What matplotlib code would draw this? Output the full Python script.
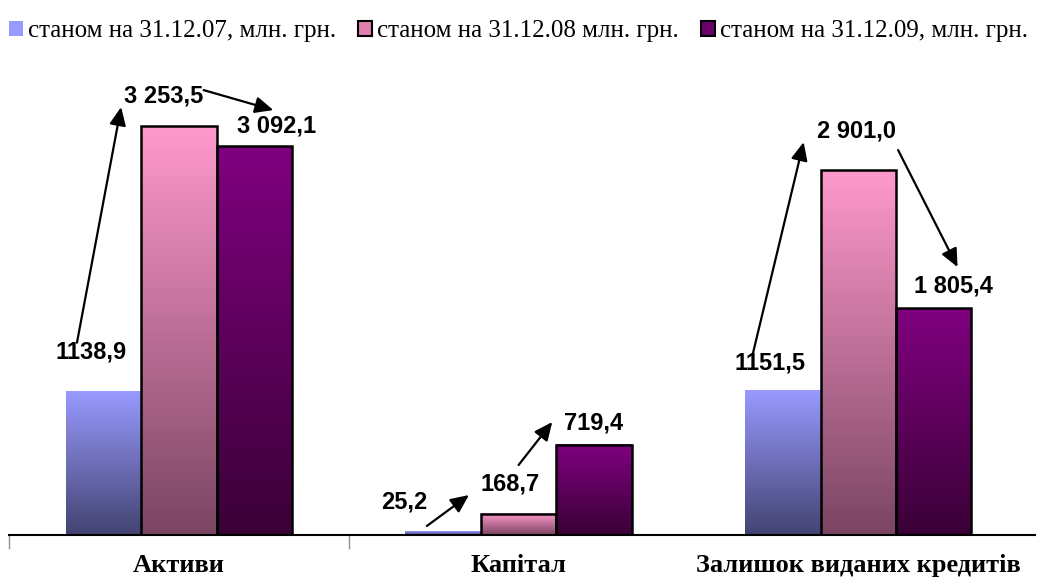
import numpy as np
import matplotlib
matplotlib.use("Agg")
import matplotlib.pyplot as plt
from matplotlib.patches import Patch
from matplotlib.colors import LinearSegmentedColormap

# ------------------------------
# Data
# ------------------------------
categories = ["Активи", "Капітал", "Залишок виданих кредитів"]
series_names = ["станом на 31.12.07, млн. грн.",
                "станом на 31.12.08 млн. грн.",
                "станом на 31.12.09, млн. грн."]
v2007 = [1138.9, 25.2, 1151.5]
v2008 = [3253.5, 168.7, 2901.0]
v2009 = [3092.1, 719.4, 1805.4]
labels2007 = ["1138,9", "25,2", "1151,5"]
labels2008 = ["3 253,5", "168,7", "2 901,0"]
labels2009 = ["3 092,1", "719,4", "1 805,4"]

# ------------------------------
# Style
# ------------------------------
BAR_W = 0.222
grads = [("#9999ff", "#434372"), ("#ff99cc", "#7a4562"), ("#800080", "#3a0036")]
edges = ["none", "black", "black"]

# value label offset from the top-centre of its bar: (dx categories, dy data units)
lab_off = [
    [(-0.035, 317), (-0.114, 238), (-0.038, 217)],   # 2007
    [(-0.044, 239), (-0.026, 237), (-0.006, 313)],   # 2008
    [(0.067, 162), (0.0, 172), (0.059, 176)],        # 2009
]
# trend arrows: (category, from (dx, y), to (dx, y)), dx from category centre
arrows = [
    (0, (-0.30, 1530), (-0.17, 3405)),
    (0, (0.073, 3540), (0.278, 3381)),
    (1, (-0.27, 72), (-0.146, 318)),
    (1, (0.0, 557), (0.099, 899)),
    (2, (-0.31, 1448), (-0.161, 3126)),
    (2, (0.117, 3063), (0.292, 2132)),
]


def gradient_bars(ax, x, vals, top, bottom, edge):
    bars = ax.bar(x, vals, width=BAR_W, facecolor="none", edgecolor=edge,
                  linewidth=1.8, zorder=3)
    cmap = LinearSegmentedColormap.from_list("g", [bottom, top])
    grad = np.linspace(0, 1, 256).reshape(-1, 1)
    for b in bars:
        x0, w, h = b.get_x(), b.get_width(), b.get_height()
        ax.imshow(grad, cmap=cmap, aspect="auto", origin="lower",
                  extent=(x0, x0 + w, 0, h), zorder=2)
    return bars


def main():
    fig = plt.figure(figsize=(10.37, 5.87), dpi=100)
    ax = fig.add_axes([9 / 1037, 52 / 587, 1026 / 1037, 465 / 587])

    x = np.arange(len(categories))
    data = [v2007, v2008, v2009]
    texts = [labels2007, labels2008, labels2009]
    for i, (vals, (top, bot), edge) in enumerate(zip(data, grads, edges)):
        xs = x + (i - 1) * BAR_W
        gradient_bars(ax, xs, vals, top, bot, edge)
        for j, lab in enumerate(texts[i]):
            dx, dy = lab_off[i][j]
            ax.text(xs[j] + dx, vals[j] + dy, lab,
                    ha="center", va="center", fontsize=17,
                    fontweight="bold", family="Liberation Sans", zorder=5)

    for cat, p0, p1 in arrows:
        ax.annotate("", xy=(x[cat] + p1[0], p1[1]), xytext=(x[cat] + p0[0], p0[1]),
                    arrowprops=dict(arrowstyle="-|>,head_length=1.1,head_width=0.5",
                                    color="black", lw=1.6, shrinkA=0, shrinkB=0),
                    zorder=6)

    ax.set_xlim(-0.5, 2.52)
    ax.set_ylim(0, 3700)
    ax.set_yticks([])
    for s in ["top", "right", "left"]:
        ax.spines[s].set_visible(False)
    ax.spines["bottom"].set_linewidth(1.5)
    ax.spines["bottom"].set_zorder(4)
    ax.set_xticks(x)
    ax.set_xticklabels(categories, family="Liberation Serif", fontweight="bold",
                       fontsize=19)
    ax.tick_params(axis="x", which="major", length=0, pad=14)
    ax.set_xticks([-0.5, 0.5], minor=True)
    ax.tick_params(axis="x", which="minor", length=10, width=1, color="#909090")

    handles = [Patch(facecolor=grads[0][0], edgecolor="none"),
               Patch(facecolor="#e07fae", edgecolor="black", linewidth=1.5),
               Patch(facecolor="#6a006a", edgecolor="black", linewidth=1.5)]
    fig.legend(handles, series_names, loc="center", bbox_to_anchor=(0.5, 0.947),
               ncol=3, frameon=False, prop={"family": "Liberation Serif", "size": 18},
               handlelength=0.55, handleheight=0.55, handletextpad=0.2,
               columnspacing=0.9)

    fig.savefig("out.png", dpi=100)
    plt.close(fig)


if __name__ == "__main__":
    main()
